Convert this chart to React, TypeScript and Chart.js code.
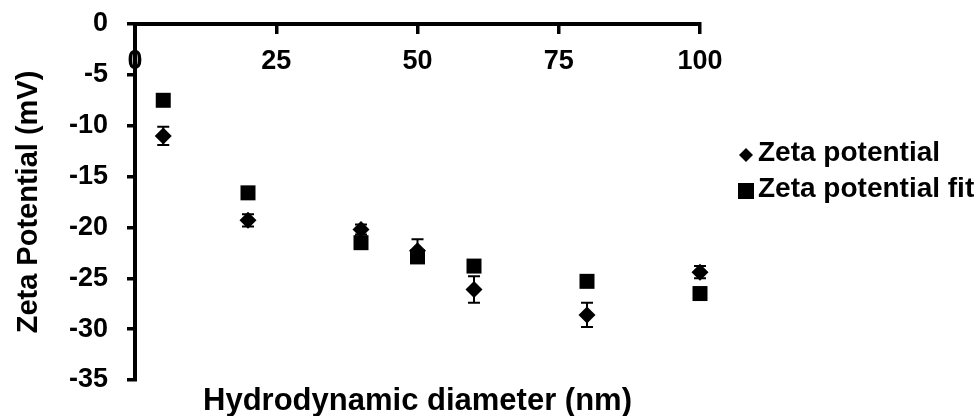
import React, { useEffect, useRef } from 'react';
import { Chart, registerables } from 'chart.js';

Chart.register(...registerables);

// ---- data ----
const diameters = [5, 20, 40, 50, 60, 80, 100];
const zetaPotential = [-11.0, -19.3, -20.2, -22.3, -26.1, -28.6, -24.4];
const zetaError = [0.9, 0.6, 0.5, 1.15, 1.3, 1.2, 0.6];
const zetaFit = [-7.5, -16.6, -21.5, -22.9, -23.8, -25.3, -26.5];
const xTickValues = [0, 25, 50, 75, 100];
const yTickValues = [0, -5, -10, -15, -20, -25, -30, -35];
const seriesNames = ['Zeta potential', 'Zeta potential fit'];
const xTitle = 'Hydrodynamic diameter (nm)';
const yTitle = 'Zeta Potential (mV)';

const FAMILY = "'Liberation Sans', Arial, Helvetica, sans-serif";

const errorBarPlugin = {
  id: 'errorBars',
  afterDatasetsDraw(chart: any) {
    const ctx = chart.ctx;
    const ys = chart.scales.y;
    chart.data.datasets.forEach((ds: any, di: number) => {
      if (!ds.errors) return;
      const meta = chart.getDatasetMeta(di);
      ctx.save();
      ctx.strokeStyle = '#000';
      ctx.lineWidth = 2;
      meta.data.forEach((pt: any, i: number) => {
        const v = ds.data[i].y;
        const e = ds.errors[i];
        const top = ys.getPixelForValue(v + e);
        const bot = ys.getPixelForValue(v - e);
        ctx.beginPath();
        ctx.moveTo(pt.x, top);
        ctx.lineTo(pt.x, bot);
        ctx.moveTo(pt.x - 6, top);
        ctx.lineTo(pt.x + 6, top);
        ctx.moveTo(pt.x - 6, bot);
        ctx.lineTo(pt.x + 6, bot);
        ctx.stroke();
      });
      ctx.restore();
    });
  },
};

const legendPlugin = {
  id: 'sideLegend',
  afterDraw(chart: any) {
    const ctx = chart.ctx;
    const area = chart.chartArea;
    const markerX = area.right + 46;
    const textX = area.right + 58;
    const rows = [155, 191];
    ctx.save();
    ctx.fillStyle = '#000';
    ctx.font = `bold 28px ${FAMILY}`;
    ctx.textAlign = 'left';
    ctx.textBaseline = 'alphabetic';
    chart.data.datasets.forEach((ds: any, i: number) => {
      const y = rows[i];
      ctx.beginPath();
      if (ds.pointStyle === 'rectRot') {
        const r = 7;
        ctx.moveTo(markerX, y - r);
        ctx.lineTo(markerX + r, y);
        ctx.lineTo(markerX, y + r);
        ctx.lineTo(markerX - r, y);
        ctx.closePath();
      } else {
        const s = 8;
        ctx.rect(markerX - s, y - s, 2 * s, 2 * s);
      }
      ctx.fill();
      ctx.fillText(ds.label, textX, y + 6);
    });
    ctx.restore();
  },
};

export default function App() {
  const canvasRef = useRef<HTMLCanvasElement | null>(null);

  useEffect(() => {
    const canvas = canvasRef.current;
    if (!canvas) return;
    const tickFont = { family: FAMILY, size: 27, weight: 'bold' as const };
    const yTitleFont = { family: FAMILY, size: 29, weight: 'bold' as const };
    const xTitleFont = { family: FAMILY, size: 31, weight: 'bold' as const };

    const chart = new Chart(canvas, {
      type: 'scatter',
      data: {
        datasets: [
          {
            label: seriesNames[0],
            data: diameters.map((x, i) => ({ x, y: zetaPotential[i] })),
            pointStyle: 'rectRot',
            pointRadius: 8.5,
            backgroundColor: '#000',
            borderColor: '#000',
            borderWidth: 0,
            showLine: false,
            clip: false,
            xAxisID: 'x',
            yAxisID: 'y',
            errors: zetaError,
          } as any,
          {
            label: seriesNames[1],
            data: diameters.map((x, i) => ({ x, y: zetaFit[i] })),
            pointStyle: 'rect',
            pointRadius: 10.6,
            backgroundColor: '#000',
            borderColor: '#000',
            borderWidth: 0,
            showLine: false,
            clip: false,
            xAxisID: 'x',
            yAxisID: 'y',
          } as any,
        ],
      },
      options: {
        animation: false,
        responsive: true,
        maintainAspectRatio: false,
        layout: { padding: { top: 24, right: 276, bottom: 0, left: 0 } },
        plugins: {
          legend: { display: false },
          tooltip: { enabled: false },
        },
        scales: {
          x: {
            type: 'linear',
            position: { y: 0 } as any,
            min: 0,
            max: 100,
            afterBuildTicks(scale: any) {
              scale.ticks = xTickValues.map((v) => ({ value: v }));
            },
            ticks: { font: tickFont, color: '#000', padding: 13 },
            grid: { drawOnChartArea: false, tickLength: 8, color: '#000', lineWidth: 3.5 },
            border: { color: '#000', width: 4 },
          },
          y: {
            type: 'linear',
            position: 'left',
            min: -35,
            max: 0,
            afterBuildTicks(scale: any) {
              scale.ticks = yTickValues.map((v) => ({ value: v }));
            },
            ticks: { font: tickFont, color: '#000', padding: 19 },
            grid: { drawOnChartArea: false, tickLength: 8, color: '#000', lineWidth: 3.5 },
            border: { color: '#000', width: 4 },
            title: {
              display: true,
              text: yTitle,
              font: yTitleFont,
              color: '#000',
              padding: { top: 12, bottom: 0 },
            },
            afterFit(scale: any) {
              scale.width = 135;
              scale.paddingTop = 16;
              scale.paddingBottom = 16;
            },
          },
          x2: {
            type: 'linear',
            position: 'bottom',
            min: 0,
            max: 100,
            ticks: { display: false },
            grid: { display: false, drawTicks: false },
            border: { display: false },
            title: {
              display: true,
              text: xTitle,
              font: xTitleFont,
              color: '#000',
              padding: { top: 0, bottom: -4 },
            },
            afterFit(scale: any) {
              scale.height = 36;
            },
          },
        },
      } as any,
      plugins: [errorBarPlugin, legendPlugin],
    });

    return () => chart.destroy();
  }, []);

  return (
    <div
      style={{
        position: 'fixed',
        left: 0,
        top: 0,
        width: 976,
        height: 416,
        background: '#fff',
      }}
    >
      <canvas ref={canvasRef} />
    </div>
  );
}
